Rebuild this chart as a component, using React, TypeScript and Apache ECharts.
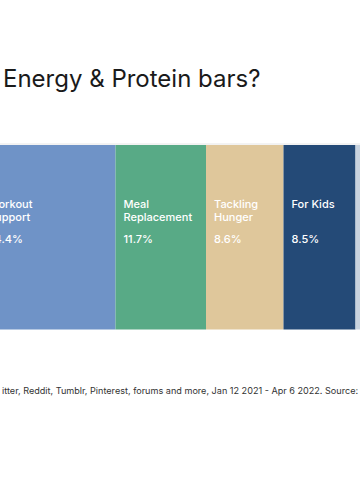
import React, { useEffect, useRef } from "react";
import * as echarts from "echarts";

// Segment names (two label lines each), shown percentages, and relative segment widths
const segmentNames = ["Workout\nSupport", "Meal\nReplacement", "Tackling\nHunger", "For Kids", "Other"];
const segmentPercents = [24.4, 11.7, 8.6, 8.5, null];
const segmentWidths = [27.1, 18.1, 15.5, 14.4, 20];
const segmentColors = ["#6f93c7", "#58aa86", "#dfc79b", "#244a77", "#c8d3df"];

const titleText = "Energy & Protein bars?";
const footerText =
  "itter, Reddit, Tumblr, Pinterest, forums and more, Jan 12 2021 - Apr 6 2022. Source:";

export default function App() {
  const ref = useRef<HTMLDivElement>(null);

  useEffect(() => {
    if (!ref.current) return;
    const chart = echarts.init(ref.current, undefined, { renderer: "svg" });
    const total = segmentWidths.reduce((a, b) => a + b, 0);
    const unit = 5;

    const labelFont = { color: "#ffffff", fontFamily: "Inter", fontSize: 11, fontWeight: 500 };

    const series = segmentNames.map((name, i) => ({
      type: "bar",
      name,
      stack: "all",
      barCategoryGap: "0%",
      barWidth: "100%",
      data: [segmentWidths[i]],
      itemStyle: { color: segmentColors[i] },
      label: {
        show: segmentPercents[i] !== null,
        position: [8, 52],
        align: "left",
        verticalAlign: "top",
        ...labelFont,
        rich: {
          n: { ...labelFont, lineHeight: 13 },
          g: { ...labelFont, fontSize: 6, lineHeight: 9 },
          p: { ...labelFont, lineHeight: 13 },
        },
        formatter: () => {
          const lines = name.split("\n");
          while (lines.length < 2) lines.push(" ");
          return [...lines.map((l) => `{n|${l}}`), "{g| }", `{p|${segmentPercents[i]}%}`].join("\n");
        },
      },
    }));

    chart.setOption({
      animation: false,
      grid: {
        left: -20,
        top: 145,
        height: 184.5,
        width: total * unit,
        outerBoundsMode: "none",
        containLabel: false,
      },
      xAxis: { type: "value", min: 0, max: total, show: false },
      yAxis: { type: "category", data: [""], show: false },
      series,
      graphic: [
        {
          type: "line",
          shape: { x1: 0, y1: 144, x2: 360, y2: 144 },
          style: { stroke: "#e6e6e6", lineWidth: 1 },
        },
        {
          type: "text",
          x: 3,
          y: 66,
          style: {
            text: titleText,
            textAlign: "left",
            textVerticalAlign: "top",
            fontFamily: "Inter",
            fontSize: 24,
            fill: "#1a1a1a",
          },
        },
        {
          type: "text",
          x: 2,
          y: 386,
          style: {
            text: footerText,
            textAlign: "left",
            textVerticalAlign: "top",
            fontFamily: "Inter",
            fontSize: 9.1,
            fill: "#333333",
          },
        },
        {
          type: "line",
          shape: { x1: 0, y1: 405, x2: 360, y2: 405 },
          style: {
            lineWidth: 2,
            stroke: new echarts.graphic.LinearGradient(0, 0, 1, 0, [
              { offset: 0, color: "#2e2e2e" },
              { offset: 0.55, color: "#3a3a3a" },
              { offset: 1, color: "#8a8a8a" },
            ]),
          },
        },
      ],
    });
    return () => chart.dispose();
  }, []);

  return (
    <div
      ref={ref}
      style={{ position: "absolute", left: 0, top: 0, width: 360, height: 500 }}
    />
  );
}
